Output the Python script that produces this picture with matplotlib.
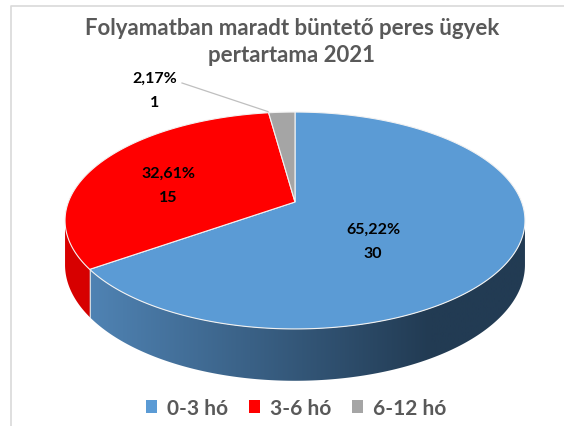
import numpy as np
import matplotlib.pyplot as plt
from matplotlib.patches import Polygon, Patch
from matplotlib.colors import to_rgb

# --- data ---
categories = ["0-3 hó", "3-6 hó", "6-12 hó"]
counts = [30, 15, 1]
title = "Folyamatban maradt büntető peres ügyek\npertartama 2021"

# --- style ---
top_colors = ["#5B9BD5", "#FF0000", "#A5A5A5"]
side_colors = [("#5287B9", "#223B53"), ("#D80000", "#C00000"), ("#8C8C8C", "#7A7A7A")]
label_pos = [(373, 242), (168, 186), (155, 91)]  # pixel anchors of the data labels
FONT = "Lato"
TEXT_GREY = "#595959"

W, H = 564, 427
# projection of the pie disk (pixel space, light perspective)
APEX = (295.0, 203.0)
RX, RY, K = 226.6, 105.3, 0.1705
DEPTH = 43.0


def proj(theta_deg, r=1.0, drop=0.0):
    t = np.radians(theta_deg)
    u, v = r * np.sin(t), r * np.cos(t)
    w = 1.0 + K * v
    x = APEX[0] + RX * u / w
    y = APEX[1] - RY * v / w + drop / w
    return x, y


fig = plt.figure(figsize=(W / 100, H / 100), dpi=100)
ax = fig.add_axes([0, 0, 1, 1])
ax.set_xlim(0, W)
ax.set_ylim(H, 0)
ax.axis("off")

# chart border (right and bottom are outside the picture)
ax.plot([11, 11, W], [H, 7, 7], color="#D9D9D9", lw=1.2, solid_capstyle="butt")

total = sum(counts)
fracs = np.array(counts) / total
bounds = np.concatenate([[0], np.cumsum(fracs) * 360])

# --- side walls (front part only) with horizontal gradient ---
grad_x = np.linspace(0, W, 400)
for i in range(len(counts)):
    a0, a1 = bounds[i], bounds[i + 1]
    angs = np.linspace(a0, a1, max(4, int((a1 - a0) * 3)))
    angs = angs[np.cos(np.radians(angs)) <= -K + 0.01]
    if len(angs) < 2:
        continue
    top = [proj(a) for a in angs]
    bot = [proj(a, drop=DEPTH) for a in angs[::-1]]
    poly = Polygon(top + bot, closed=True, facecolor="none", edgecolor="none")
    ax.add_patch(poly)
    c0, c1 = np.array(to_rgb(side_colors[i][0])), np.array(to_rgb(side_colors[i][1]))
    f = np.clip((grad_x - 70) / 360, 0, 1)[None, :, None]
    img = c0 + (c1 - c0) * f
    im = ax.imshow(img, extent=(0, W, H, 0), aspect="auto", zorder=2,
                   interpolation="bilinear")
    im.set_clip_path(poly)

# seams on the side between slices
for b in bounds[:-1]:
    if np.cos(np.radians(b)) < -K:
        p, q = proj(b), proj(b, drop=DEPTH)
        ax.plot([p[0], q[0]], [p[1], q[1]], color="#E8E8E8", lw=0.6, zorder=3)

ax.set_xlim(0, W)
ax.set_ylim(H, 0)

# --- top faces ---
for i in range(len(counts)):
    a0, a1 = bounds[i], bounds[i + 1]
    angs = np.linspace(a0, a1, max(6, int((a1 - a0) * 3)))
    pts = [APEX] + [proj(a) for a in angs]
    ax.add_patch(Polygon(pts, closed=True, facecolor=top_colors[i],
                         edgecolor="#F2F2F2", lw=0.8, zorder=4))

# --- data labels ---
for i, (x, y) in enumerate(label_pos):
    pct = f"{fracs[i] * 100:.2f}%".replace(".", ",")
    ax.text(x, y - 12, pct, ha="center", va="center", fontsize=11.5,
            fontweight="bold", family=FONT, color="black", zorder=6)
    ax.text(x, y + 12, str(counts[i]), ha="center", va="center", fontsize=11.5,
            fontweight="bold", family=FONT, color="black", zorder=6)

# leader line for the small slice
end = proj(bounds[2] + 1)
ax.plot([182, end[0] - 4], [84, end[1] - 1], color="#BFBFBF", lw=0.9, zorder=5)

# --- title ---
ax.text(292, 42, title, ha="center", va="center", fontsize=16,
        fontweight="bold", family=FONT, color=TEXT_GREY, linespacing=1.35)

# --- legend ---
handles = [Patch(facecolor=c, edgecolor="none") for c in top_colors]
leg = ax.legend(handles, categories, loc="center", bbox_to_anchor=(296 / W, 1 - 409 / H),
                ncol=3, frameon=False, handlelength=0.55, handleheight=0.55,
                handletextpad=0.45, columnspacing=1.0,
                prop={"family": FONT, "weight": "bold", "size": 15})
for t in leg.get_texts():
    t.set_color(TEXT_GREY)

fig.savefig("out.png", dpi=100)
